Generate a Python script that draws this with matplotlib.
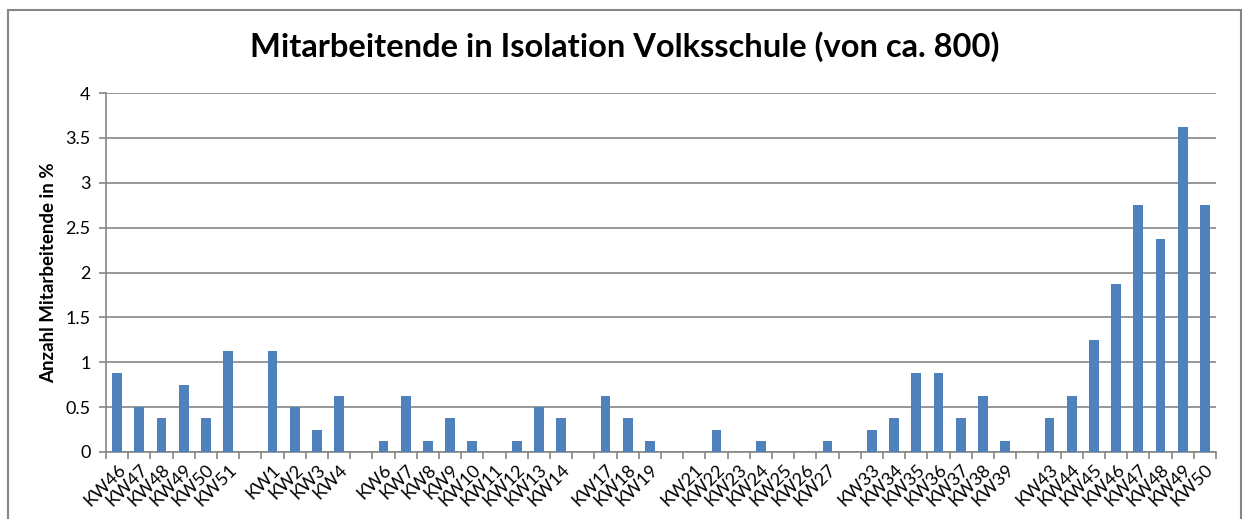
import numpy as np
import matplotlib.pyplot as plt
from matplotlib.patches import Rectangle

plt.rcParams['font.family'] = ['Lato', 'DejaVu Sans']

weeks = ['KW46', 'KW47', 'KW48', 'KW49', 'KW50', 'KW51', '',
         'KW1', 'KW2', 'KW3', 'KW4', '',
         'KW6', 'KW7', 'KW8', 'KW9', 'KW10', 'KW11', 'KW12', 'KW13', 'KW14', '',
         'KW17', 'KW18', 'KW19', '',
         'KW21', 'KW22', 'KW23', 'KW24', 'KW25', 'KW26', 'KW27', '',
         'KW33', 'KW34', 'KW35', 'KW36', 'KW37', 'KW38', 'KW39', '',
         'KW43', 'KW44', 'KW45', 'KW46', 'KW47', 'KW48', 'KW49', 'KW50']
percent = [0.875, 0.5, 0.375, 0.75, 0.375, 1.125, np.nan,
           1.125, 0.5, 0.25, 0.625, np.nan,
           0.125, 0.625, 0.125, 0.375, 0.125, 0, 0.125, 0.5, 0.375, np.nan,
           0.625, 0.375, 0.125, np.nan,
           0, 0.25, 0, 0.125, 0, 0, 0.125, np.nan,
           0.25, 0.375, 0.875, 0.875, 0.375, 0.625, 0.125, np.nan,
           0.375, 0.625, 1.25, 1.875, 2.75, 2.375, 3.625, 2.75]
yticks = [0, 0.5, 1, 1.5, 2, 2.5, 3, 3.5, 4]
ylabels = ['0', '0.5', '1', '1.5', '2', '2.5', '3', '3.5', '4']

W, H = 1248, 519
fig = plt.figure(figsize=(W / 100, H / 100), dpi=100)

# chart border (open at the bottom like the cropped screenshot)
fig.add_artist(Rectangle((8 / W, -0.05), (1241 - 8) / W, 1.05 - 10 / H,
                         transform=fig.transFigure, fill=False,
                         edgecolor='#868686', linewidth=1.5))

left, right, top, bottom = 106, 1216, 93, 452
ax = fig.add_axes([left / W, 1 - bottom / H, (right - left) / W, (bottom - top) / H])

x = np.arange(len(weeks))
ax.bar(x, np.nan_to_num(percent), width=0.45, color='#4F81BD', zorder=3)

ax.set_xlim(-0.5, len(weeks) - 0.5)
ax.set_ylim(0, 4)
ax.set_yticks(yticks)
ax.set_yticklabels(ylabels, fontsize=13)
ax.yaxis.grid(True, color='#868686', linewidth=1.2, zorder=0)

ax.set_xticks(x)
ax.set_xticklabels(weeks, rotation=45, ha='right', rotation_mode='anchor', fontsize=13)
ax.set_xticks(np.arange(len(weeks) + 1) - 0.5, minor=True)
ax.tick_params(axis='x', which='major', length=0, pad=7)
ax.tick_params(axis='x', which='minor', length=5, color='#868686', width=1.2)
ax.tick_params(axis='y', length=5, color='#868686', width=1.2, pad=6)

for s in ['top', 'right']:
    ax.spines[s].set_visible(False)
for s in ['left', 'bottom']:
    ax.spines[s].set_color('#868686')
    ax.spines[s].set_linewidth(1.2)

ax.set_ylabel('Anzahl Mitarbeitende in %', fontsize=13.5, fontweight='bold', labelpad=6)
fig.text(625 / W, 1 - 47 / H, 'Mitarbeitende in Isolation Volksschule (von ca. 800)',
         ha='center', va='center', fontsize=23.5, fontweight='bold')

fig.savefig('out.png', dpi=100)
